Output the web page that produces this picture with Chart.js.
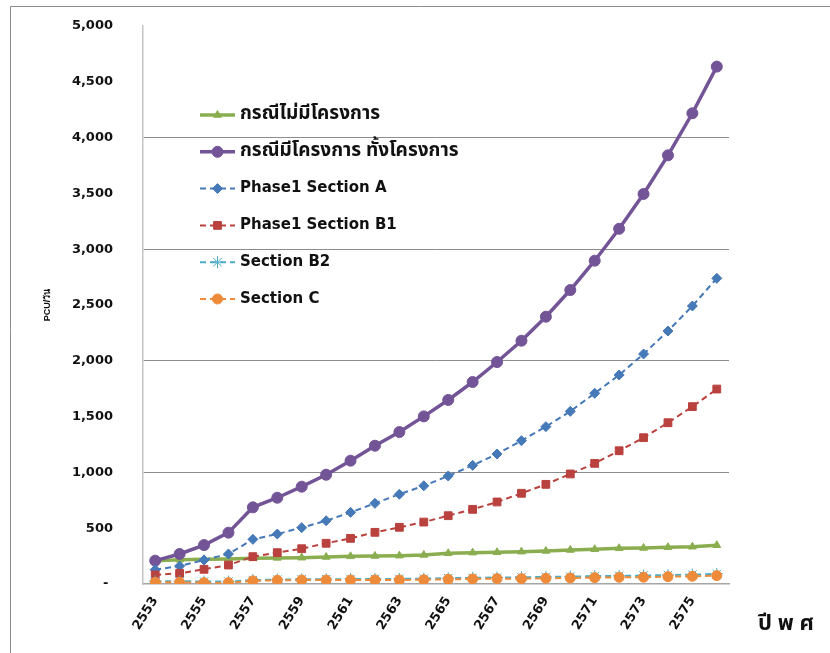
<!DOCTYPE html>
<html>
<head>
<meta charset="utf-8">
<style>
  html, body { margin: 0; padding: 0; background: #fff; }
  #wrap { width: 830px; height: 653px; }
</style>
<script src="https://cdn.jsdelivr.net/npm/chart.js@4/dist/chart.umd.min.js"></script>
</head>
<body>
<div id="wrap"><canvas id="chart" width="830" height="653"></canvas></div>
<script>
const years = ['2553','2554','2555','2556','2557','2558','2559','2560','2561','2562','2563','2564',
  '2565','2566','2567','2568','2569','2570','2571','2572','2573','2574','2575','2576'];

const seriesNames = ['กรณีไม่มีโครงการ', 'กรณีมีโครงการ ทั้งโครงการ', 'Phase1 Section A',
  'Phase1 Section B1', 'Section B2', 'Section C'];

const noProject = [209, 218, 221, 225, 230, 234, 236, 242, 248, 251, 254, 260,
  275, 281, 284, 290, 296, 305, 311, 320, 323, 329, 334, 347];
const fullProject = [209, 269, 349, 460, 687, 773, 872, 979, 1105, 1239, 1362, 1502,
  1649, 1810, 1989, 2180, 2395, 2634, 2897, 3183, 3495, 3841, 4218, 4636];
const sectionA = [128, 161, 215, 269, 400, 448, 505, 567, 642, 723, 804, 880,
  968, 1063, 1165, 1284, 1410, 1547, 1709, 1873, 2061, 2267, 2491, 2739];
const sectionB1 = [81, 96, 132, 170, 245, 281, 316, 365, 409, 463, 508, 555,
  612, 669, 735, 813, 893, 986, 1081, 1194, 1311, 1445, 1589, 1747];
const sectionB2 = [25, 25, 22, 22, 35, 40, 42, 43, 44, 45, 46, 48,
  52, 55, 58, 60, 63, 66, 70, 73, 76, 80, 84, 90];
const sectionC = [15, 15, 12, 12, 28, 33, 35, 35, 36, 36, 36, 38,
  42, 45, 48, 48, 51, 54, 57, 60, 61, 66, 69, 75];

const yTitle = 'PCU/วัน';
const xTitle = 'ปี พ ศ';

const thaiFont = '"Noto Sans Thai", "Noto Serif Thai", Tahoma, "DejaVu Sans", sans-serif';
const latinFont = '"DejaVu Sans", sans-serif';

const legendPlugin = {
  id: 'innerLegend',
  afterDatasetsDraw(chart) {
    const ctx = chart.ctx;
    const x0 = 200, y0 = 115, gap = 36.8;
    chart.data.datasets.forEach((ds, i) => {
      const y = y0 + i * gap;
      ctx.save();
      ctx.strokeStyle = ds.borderColor;
      ctx.lineWidth = ds.borderWidth;
      ctx.setLineDash(ds.borderDash || []);
      ctx.beginPath();
      ctx.moveTo(x0, y);
      ctx.lineTo(x0 + 35, y);
      ctx.stroke();
      ctx.setLineDash([]);
      ctx.fillStyle = ds.pointBackgroundColor;
      ctx.strokeStyle = ds.pointBorderColor;
      ctx.lineWidth = 1;
      Chart.helpers.drawPoint(ctx, { pointStyle: ds.pointStyle, radius: ds.pointRadius, borderWidth: 1, rotation: 0 }, x0 + 17.5, y);
      const thai = i < 2;
      ctx.fillStyle = '#111';
      ctx.font = thai ? 'bold 19px ' + thaiFont : 'bold 15px ' + latinFont;
      ctx.textBaseline = 'middle';
      ctx.textAlign = 'left';
      ctx.fillText(ds.label, x0 + 40, y);
      ctx.restore();
    });
  }
};

const framePlugin = {
  id: 'frame',
  beforeDraw(chart) {
    const ctx = chart.ctx;
    ctx.save();
    ctx.fillStyle = '#fff';
    ctx.fillRect(0, 0, chart.width, chart.height);
    ctx.strokeStyle = '#8c8c8c';
    ctx.lineWidth = 1;
    ctx.beginPath();
    ctx.moveTo(10.5, chart.height);
    ctx.lineTo(10.5, 6.5);
    ctx.lineTo(chart.width, 6.5);
    ctx.stroke();
    ctx.restore();
  },
  afterDraw(chart) {
    const ctx = chart.ctx;
    ctx.save();
    ctx.fillStyle = '#111';
    ctx.font = 'bold 22px ' + thaiFont;
    ctx.textAlign = 'center';
    ctx.textBaseline = 'middle';
    ctx.fillText(xTitle, 786, 626);
    ctx.restore();
  }
};

function line(label, data, color, opts) {
  return Object.assign({
    label, data,
    borderColor: color,
    backgroundColor: color,
    pointBackgroundColor: color,
    pointBorderColor: color,
    borderWidth: 2,
    pointRadius: 4.5,
    pointBorderWidth: 1,
    tension: 0,
    fill: false
  }, opts);
}

new Chart(document.getElementById('chart'), {
  type: 'line',
  data: {
    labels: years,
    datasets: [
      line(seriesNames[0], noProject, '#8AAE4F', { borderWidth: 3.5, pointStyle: 'triangle', pointRadius: 4.5, order: 6 }),
      line(seriesNames[1], fullProject, '#735497', { borderWidth: 3.5, pointStyle: 'circle', pointRadius: 5.5, order: 5 }),
      line(seriesNames[2], sectionA, '#4679B8', { borderDash: [6, 4], pointStyle: 'rectRot', pointRadius: 5, order: 4 }),
      line(seriesNames[3], sectionB1, '#B9413E', { borderDash: [6, 4], pointStyle: 'rect', pointRadius: 5.5, order: 3 }),
      line(seriesNames[4], sectionB2, '#4BACC6', { borderDash: [6, 4], pointStyle: 'star', pointRadius: 6, order: 2 }),
      line(seriesNames[5], sectionC, '#EE8B3A', { borderDash: [6, 4], pointStyle: 'circle', pointRadius: 5, order: 1 })
    ]
  },
  options: {
    responsive: false,
    animation: false,
    layout: { padding: { left: 40, right: 101, top: 26, bottom: 0 } },
    plugins: { legend: { display: false }, tooltip: { enabled: false } },
    scales: {
      x: {
        offset: true,
        afterFit(scale) { scale.height = 69; },
        grid: { color: 'rgba(0,0,0,0)', drawTicks: false, offset: true },
        border: { color: '#a6a6a6', width: 1.5 },
        ticks: {
          autoSkip: false,
          minRotation: 58, maxRotation: 58,
          padding: 10,
          color: '#111',
          font: { family: latinFont, size: 13, weight: 'bold' },
          callback(value, index) { return index % 2 === 0 ? years[index] : ''; }
        }
      },
      y: {
        min: 0, max: 5000,
        afterFit(scale) { scale.width = 103; },
        grid: {
          drawTicks: true,
          tickLength: 26,
          tickColor: 'rgba(0,0,0,0)',
          lineWidth: 1,
          color(ctx) {
            const v = ctx.tick ? ctx.tick.value : 0;
            return v % 1000 === 0 && v > 0 && v < 5000 ? '#8c8c8c' : 'rgba(0,0,0,0)';
          }
        },
        border: { color: '#c4c4c4', width: 1.5 },
        title: { display: true, text: yTitle, color: '#111', padding: 2,
          font: { family: '"Liberation Sans", sans-serif', size: 9, weight: 'bold' } },
        ticks: {
          stepSize: 500,
          padding: 4,
          color: '#111',
          font: { family: latinFont, size: 13, weight: 'bold' },
          callback(value) { return value === 0 ? '- ' : value.toLocaleString('en-US'); }
        }
      }
    }
  },
  plugins: [framePlugin, legendPlugin]
});
</script>
</body>
</html>
